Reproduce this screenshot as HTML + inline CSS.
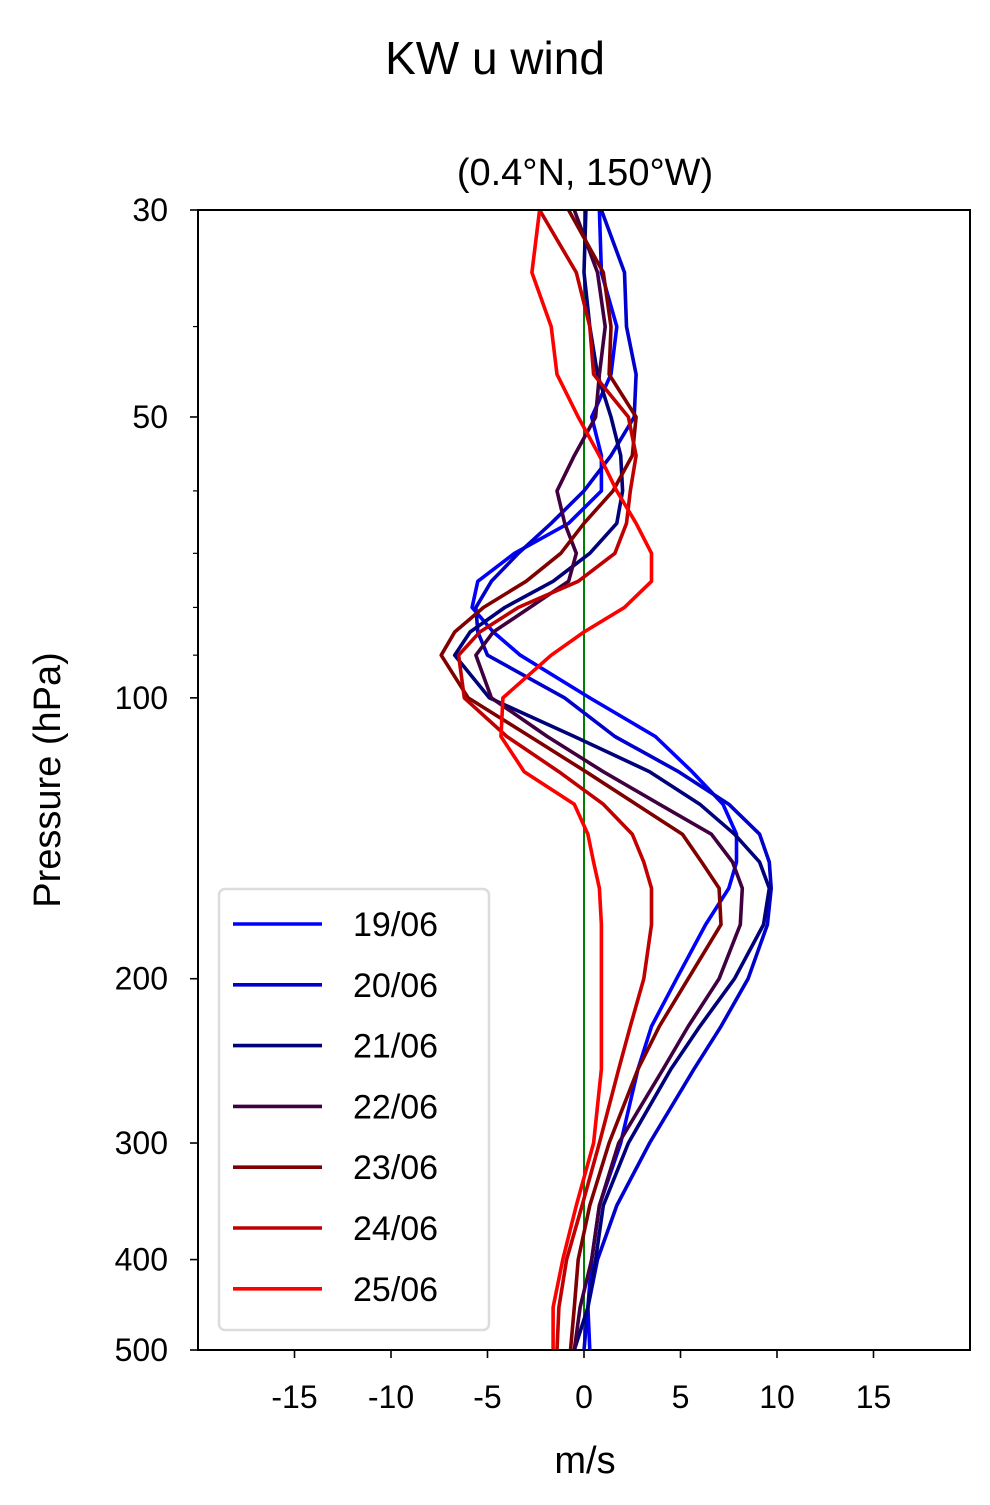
<!DOCTYPE html>
<html><head><meta charset="utf-8"><style>
html,body{margin:0;padding:0;background:#fff;}
svg text{font-family:"Liberation Sans","DejaVu Sans",sans-serif;fill:#000;}
</style></head><body>
<svg id="chart" width="990" height="1500" viewBox="0 0 990 1500" xmlns="http://www.w3.org/2000/svg">
<text x="495" y="74" font-size="46" text-anchor="middle">KW u wind</text>
<text x="585" y="185" font-size="38" text-anchor="middle">(0.4°N, 150°W)</text>
<g id="plot"></g>
<text x="585" y="1473" font-size="38" text-anchor="middle">m/s</text>
<text transform="translate(60,780) rotate(-90)" font-size="38" text-anchor="middle">Pressure (hPa)</text>
</svg>
<script>
const levels = [30,35,40,45,50,55,60,65,70,75,80,85,90,100,110,120,130,140,150,160,175,200,225,250,300,350,400,450,500];
const dates = ["19/06","20/06","21/06","22/06","23/06","24/06","25/06"];
const colors = ["#0000ff","#0000cc","#00007a","#400040","#800000","#c00000","#ff0000"];
const u19 = [0.8,0.9,1.7,1.4,0.4,0.9,0.9,-0.8,-3.6,-5.5,-5.8,-4.7,-3.3,0.3,3.7,5.6,7.2,7.9,7.9,7.5,6.3,4.8,3.5,2.8,1.9,0.8,0.4,0.2,0.3];
const u20 = [0.9,2.1,2.2,2.7,2.6,1.4,0,-1.7,-3.4,-4.8,-5.6,-5.5,-5.0,-1.0,1.6,4.9,7.5,9.1,9.6,9.7,9.5,8.5,7.1,5.7,3.4,1.7,0.7,0.2,0];
const u21 = [0.1,0,0.3,0.7,1.4,1.9,2.0,1.7,0.3,-1.6,-4.1,-5.9,-6.7,-4.9,-0.5,3.4,6.0,7.8,9.1,9.6,9.3,7.8,6.0,4.5,2.3,1.0,0.6,0.2,-0.5];
const u22 = [-0.5,0.7,1.1,0.8,0.6,-0.5,-1.4,-1.0,-0.4,-0.8,-2.8,-4.7,-5.6,-4.8,-1.9,1.0,3.9,6.6,7.7,8.2,8.1,7.0,5.4,4.1,1.8,0.8,0.4,-0.2,-0.5];
const u23 = [-0.8,1.0,1.4,1.3,2.7,2.5,1.5,0,-1.2,-3.0,-5.2,-6.7,-7.4,-6.0,-2.8,0.1,2.7,5.1,6.1,7.0,7.1,5.4,3.9,2.8,1.3,0.3,-0.3,-0.5,-0.7];
const u24 = [-2.3,-0.4,0.3,0.5,2.3,2.7,2.4,2.2,1.6,-0.3,-3.4,-5.4,-6.5,-6.2,-4.0,-1.3,1.0,2.5,3.1,3.5,3.5,3.1,2.4,1.8,0.8,-0.1,-0.9,-1.3,-1.4];
const u25 = [-2.3,-2.7,-1.7,-1.4,-0.3,0.8,1.7,2.7,3.5,3.5,2.1,0,-1.7,-4.2,-4.3,-3.1,-0.5,0.2,0.5,0.8,0.9,0.9,0.9,0.9,0.5,-0.4,-1.1,-1.6,-1.6];
const xTicks = [-15,-10,-5,0,5,10,15];
const yTicks = [30,50,100,200,300,400,500];
const yMinor = [40,60,70,80,90];

const series = [u19,u20,u21,u22,u23,u24,u25];
const L=198,R=970,T=210,B=1350, XMIN=-20, XMAX=20, PTOP=30, PBOT=500;
const NS="http://www.w3.org/2000/svg";
function X(v){return L+(v-XMIN)/(XMAX-XMIN)*(R-L);}
function Y(p){return T+Math.log(p/PTOP)/Math.log(PBOT/PTOP)*(B-T);}
function mk(tag,attrs,parent){const e=document.createElementNS(NS,tag);for(const k in attrs)e.setAttribute(k,attrs[k]);parent.appendChild(e);return e;}
const g=document.getElementById('plot');
const clip=mk('clipPath',{id:'clipArea'},g);
mk('rect',{x:L,y:T,width:R-L,height:B-T},clip);
const lines=mk('g',{'clip-path':'url(#clipArea)'},g);


const zl=mk('line',{x1:X(0),x2:X(0),y1:T,y2:B,stroke:'#008000','stroke-width':2},lines);


series.forEach((s,i)=>{
  const pts=s.map((v,j)=>X(v).toFixed(1)+','+Y(levels[j]).toFixed(1)).join(' ');
  const pl=mk('polyline',{points:pts,fill:'none',stroke:colors[i],'stroke-width':3.6,'stroke-linejoin':'round'},lines);
  
  
});
const frame=mk('rect',{x:L,y:T,width:R-L,height:B-T,fill:'none',stroke:'#000','stroke-width':2},g);


xTicks.forEach(t=>{
  const x=X(t);
  const tk=mk('line',{x1:x,x2:x,y1:B,y2:B+8,stroke:'#000','stroke-width':1.6},g);
  
  
  const tx=mk('text',{x:x,y:B+58,'font-size':32,'text-anchor':'middle'},g);
  tx.textContent=String(t);
  
  
});
yTicks.forEach(t=>{
  const y=Y(t);
  const tk=mk('line',{x1:L-8,x2:L,y1:y,y2:y,stroke:'#000','stroke-width':1.6},g);
  
  
  const tx=mk('text',{x:L-30,y:y+11,'font-size':32,'text-anchor':'end'},g);
  tx.textContent=String(t);
  
  
});
yMinor.forEach(t=>{
  const y=Y(t);
  const tk=mk('line',{x1:L-5,x2:L,y1:y,y2:y,stroke:'#000','stroke-width':1.2},g);
  
  
});
const lg=mk('g',{},g);


mk('rect',{x:219,y:889,width:270,height:441,rx:6,fill:'#fff','fill-opacity':0.8,stroke:'#dcdcdc','stroke-width':2.5},lg);
dates.forEach((d,i)=>{
  const y=924+i*60.8;
  const e=mk('g',{},lg);
  
  
  mk('line',{x1:233,x2:322,y1:y,y2:y,stroke:colors[i],'stroke-width':3.6},e);
  const t=mk('text',{x:353,y:y+12,'font-size':34},e);
  t.textContent=d;
});
</script>
</body></html>
